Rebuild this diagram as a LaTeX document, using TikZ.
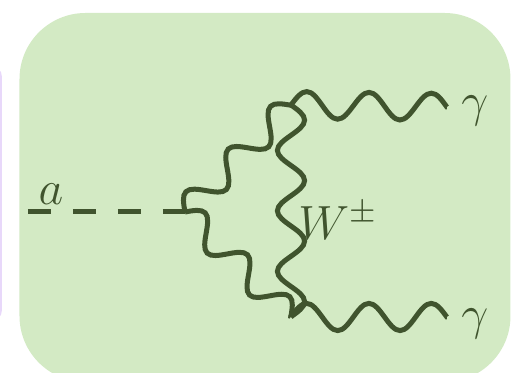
\documentclass[tikz,border=0pt]{standalone}
\usepackage{amsmath,amssymb}
\usepackage{xcolor}
\usetikzlibrary{decorations}
\definecolor{cpanel}{RGB}{211,234,196}
\definecolor{cline}{RGB}{64,84,46}
\definecolor{cstrip}{RGB}{232,216,250}

% sine wave made of a whole number of half periods
\pgfdeclaredecoration{halfsines}{up}{
  \state{up}[width=\pgfdecoratedpathlength/\nhalf-0.01pt, next state=down]{
    \pgfpathcurveto
      {\pgfpoint{.1631*\pgfdecoratedpathlength/\nhalf}{.5123*\pgfdecorationsegmentamplitude}}
      {\pgfpoint{.3183*\pgfdecoratedpathlength/\nhalf}{\pgfdecorationsegmentamplitude}}
      {\pgfpoint{.5*\pgfdecoratedpathlength/\nhalf}{\pgfdecorationsegmentamplitude}}
    \pgfpathcurveto
      {\pgfpoint{.6817*\pgfdecoratedpathlength/\nhalf}{\pgfdecorationsegmentamplitude}}
      {\pgfpoint{.8369*\pgfdecoratedpathlength/\nhalf}{.5123*\pgfdecorationsegmentamplitude}}
      {\pgfpoint{\pgfdecoratedpathlength/\nhalf}{0pt}}
  }
  \state{down}[width=\pgfdecoratedpathlength/\nhalf-0.01pt, next state=up]{
    \pgfpathcurveto
      {\pgfpoint{.1631*\pgfdecoratedpathlength/\nhalf}{-.5123*\pgfdecorationsegmentamplitude}}
      {\pgfpoint{.3183*\pgfdecoratedpathlength/\nhalf}{-\pgfdecorationsegmentamplitude}}
      {\pgfpoint{.5*\pgfdecoratedpathlength/\nhalf}{-\pgfdecorationsegmentamplitude}}
    \pgfpathcurveto
      {\pgfpoint{.6817*\pgfdecoratedpathlength/\nhalf}{-\pgfdecorationsegmentamplitude}}
      {\pgfpoint{.8369*\pgfdecoratedpathlength/\nhalf}{-.5123*\pgfdecorationsegmentamplitude}}
      {\pgfpoint{\pgfdecoratedpathlength/\nhalf}{0pt}}
  }
  \state{final}{\pgfpathlineto{\pgfpointdecoratedpathlast}}
}

\begin{document}
\begin{tikzpicture}[
          x=0.25pt, y=-0.25pt,
          every node/.style={font=\large, text=cline, inner sep=0pt},
          nhalf/.store in=\nhalf,
          scalar/.style={line width=1.25pt, draw=cline, dash pattern=on 5.7pt off 5.55pt},
          boson/.style={line width=1.25pt, draw=cline, nhalf=#1, decorate,
          decoration={halfsines, amplitude=3.4pt}},
        ]

          \useasboundingbox (0,0) rectangle (519,373);
          \clip (0,0) rectangle (519,373);

          % ── Panels ───────────────────────────────────────────
          \fill[cstrip, rounded corners=3pt] (-20,65) rectangle (2,322);
          \fill[cpanel, rounded corners=16.5pt] (19.5,13) rectangle (510.5,382);

          % ── Vertices ─────────────────────────────────────────
          \coordinate (Ain)  at (28,212);
          \coordinate (Vaxn) at (185,212);
          \coordinate (Vtop) at (291,105);
          \coordinate (Vbot) at (291,317);
          \coordinate (Gtop) at (447,107);
          \coordinate (Gbot) at (447,317);

          % ── Labels ───────────────────────────────────────────
          \node (La)  at (51,194)   {$a$};
          \node (Lg1) at (475,111)  {$\gamma$};
          \node (Lg2) at (475,324)  {$\gamma$};
          \node (LW)  at (338,221)  {$W^{\pm}$};

          % ── Edges ────────────────────────────────────────────
          \draw[scalar] (Ain)--(Vaxn);
          \draw[boson=5] (Vaxn)--(Vtop);
          \draw[boson=5] (Vaxn)--(Vbot);
          \draw[boson=7] (Vtop)--(Vbot);
          \draw[boson=5] (Vtop)--(Gtop);
          \draw[boson=5] (Vbot)--(Gbot);

        \end{tikzpicture}
\end{document}
